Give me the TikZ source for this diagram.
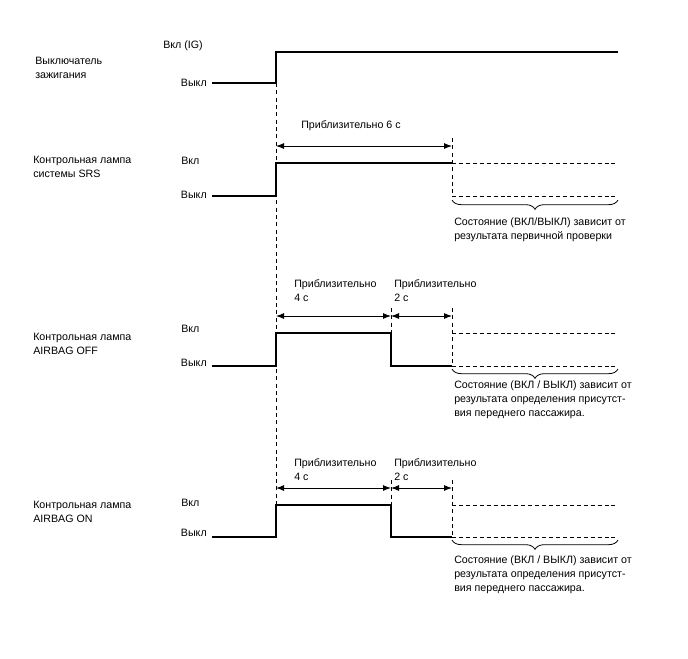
\documentclass[tikz,border=0pt]{standalone}
\usepackage{fontspec}
\setmainfont{Liberation Sans}
\usetikzlibrary{arrows.meta,decorations.pathreplacing}

\begin{document}
\begin{tikzpicture}[x=0.75pt, y=-0.75pt,
  sig/.style={line width=1.1pt},
  undef/.style={line width=0.7pt, dash pattern=on 3pt off 2.2pt},
  guide/.style={line width=0.5pt, dash pattern=on 3pt off 2.5pt},
  dim/.style={line width=0.7pt, {Latex[length=6pt,width=4.5pt]}-{Latex[length=6pt,width=4.5pt]}},
  lbl/.style={font=\fontsize{8}{10.5}\selectfont, inner sep=0pt, align=left},
  brc/.style={decorate, decoration={brace, mirror, amplitude=7pt}, line width=0.6pt}
]
\useasboundingbox (0,0) rectangle (688,658);

% Ignition switch
\node[lbl, anchor=west] (igname) at (35,68) {Выключатель\\зажигания};
\node[lbl, anchor=west] (igon) at (163,46) {Вкл (IG)};
\node[lbl, anchor=east] (igoff) at (207,83) {Выкл};
\coordinate (ig0) at (212,83);
\coordinate (ig1) at (276,83);
\coordinate (ig2) at (276,52);
\coordinate (ig3) at (618,52);
\draw[sig] (ig0) -- (ig1) -- (ig2) -- (ig3);

% Guide line at switch-on
\coordinate (g0) at (276,537);
\draw[guide] (ig1) -- (g0);

% SRS lamp
\node[lbl, anchor=west] (srsname) at (33,167) {Контрольная лампа\\системы SRS};
\node[lbl, anchor=west] (srson) at (181,161) {Вкл};
\node[lbl, anchor=east] (srsoff) at (207,195) {Выкл};
\coordinate (s0) at (212,196);
\coordinate (s1) at (276,196);
\coordinate (s2) at (276,163);
\coordinate (s3) at (452,163);
\coordinate (s4) at (618,163);
\coordinate (s5) at (452,196);
\coordinate (s6) at (618,196);
\draw[sig] (s0) -- (s1) -- (s2) -- (s3);
\draw[undef] (s3) -- (s4);
\draw[undef] (s5) -- (s6);
\draw[guide] (452,138) -- (s5);
\node[lbl, anchor=west] (srst) at (301,126) {Приблизительно 6 с};
\draw[dim] (276,146) -- (452,146);
\draw[brc] (452,200) -- (618,200);
\node[lbl, anchor=north west] (srsnote) at (454,217) {Состояние (ВКЛ/ВЫКЛ) зависит от\\результата первичной проверки};

% AIRBAG OFF lamp
\node[lbl, anchor=west] (offname) at (33,344) {Контрольная лампа\\AIRBAG OFF};
\node[lbl, anchor=west] (offon) at (181,329) {Вкл};
\node[lbl, anchor=east] (offoff) at (207,363) {Выкл};
\coordinate (f0) at (212,366);
\coordinate (f1) at (276,366);
\coordinate (f2) at (276,333);
\coordinate (f3) at (391,333);
\coordinate (f4) at (391,366);
\coordinate (f5) at (452,366);
\coordinate (f6) at (618,366);
\coordinate (f7) at (452,333);
\coordinate (f8) at (618,333);
\draw[sig] (f0) -- (f1) -- (f2) -- (f3) -- (f4) -- (f5);
\draw[undef] (f5) -- (f6);
\draw[undef] (f7) -- (f8);
\draw[guide] (391,308) -- (f3);
\draw[guide] (452,308) -- (f5);
\node[lbl, anchor=west] (offt1) at (294,291) {Приблизительно\\4 с};
\node[lbl, anchor=west] (offt2) at (394,291) {Приблизительно\\2 с};
\draw[dim] (276,316) -- (391,316);
\draw[dim] (391,316) -- (452,316);
\draw[brc] (452,369) -- (618,369);
\node[lbl, anchor=north west] (offnote) at (454,380) {Состояние (ВКЛ / ВЫКЛ) зависит от\\результата определения присутст-\\вия переднего пассажира.};

% AIRBAG ON lamp
\node[lbl, anchor=west] (onname) at (33,512) {Контрольная лампа\\AIRBAG ON};
\node[lbl, anchor=west] (onon) at (181,503) {Вкл};
\node[lbl, anchor=east] (onoff) at (207,533) {Выкл};
\coordinate (n0) at (212,537);
\coordinate (n1) at (276,537);
\coordinate (n2) at (276,505);
\coordinate (n3) at (391,505);
\coordinate (n4) at (391,537);
\coordinate (n5) at (452,537);
\coordinate (n6) at (618,537);
\coordinate (n7) at (452,505);
\coordinate (n8) at (618,505);
\draw[sig] (n0) -- (n1) -- (n2) -- (n3) -- (n4) -- (n5);
\draw[undef] (n5) -- (n6);
\draw[undef] (n7) -- (n8);
\draw[guide] (391,480) -- (n3);
\draw[guide] (452,480) -- (n5);
\node[lbl, anchor=west] (ont1) at (294,470) {Приблизительно\\4 с};
\node[lbl, anchor=west] (ont2) at (394,470) {Приблизительно\\2 с};
\draw[dim] (276,488) -- (391,488);
\draw[dim] (391,488) -- (452,488);
\draw[brc] (452,540) -- (618,540);
\node[lbl, anchor=north west] (onnote) at (454,555) {Состояние (ВКЛ / ВЫКЛ) зависит от\\результата определения присутст-\\вия переднего пассажира.};
\end{tikzpicture}
\end{document}
